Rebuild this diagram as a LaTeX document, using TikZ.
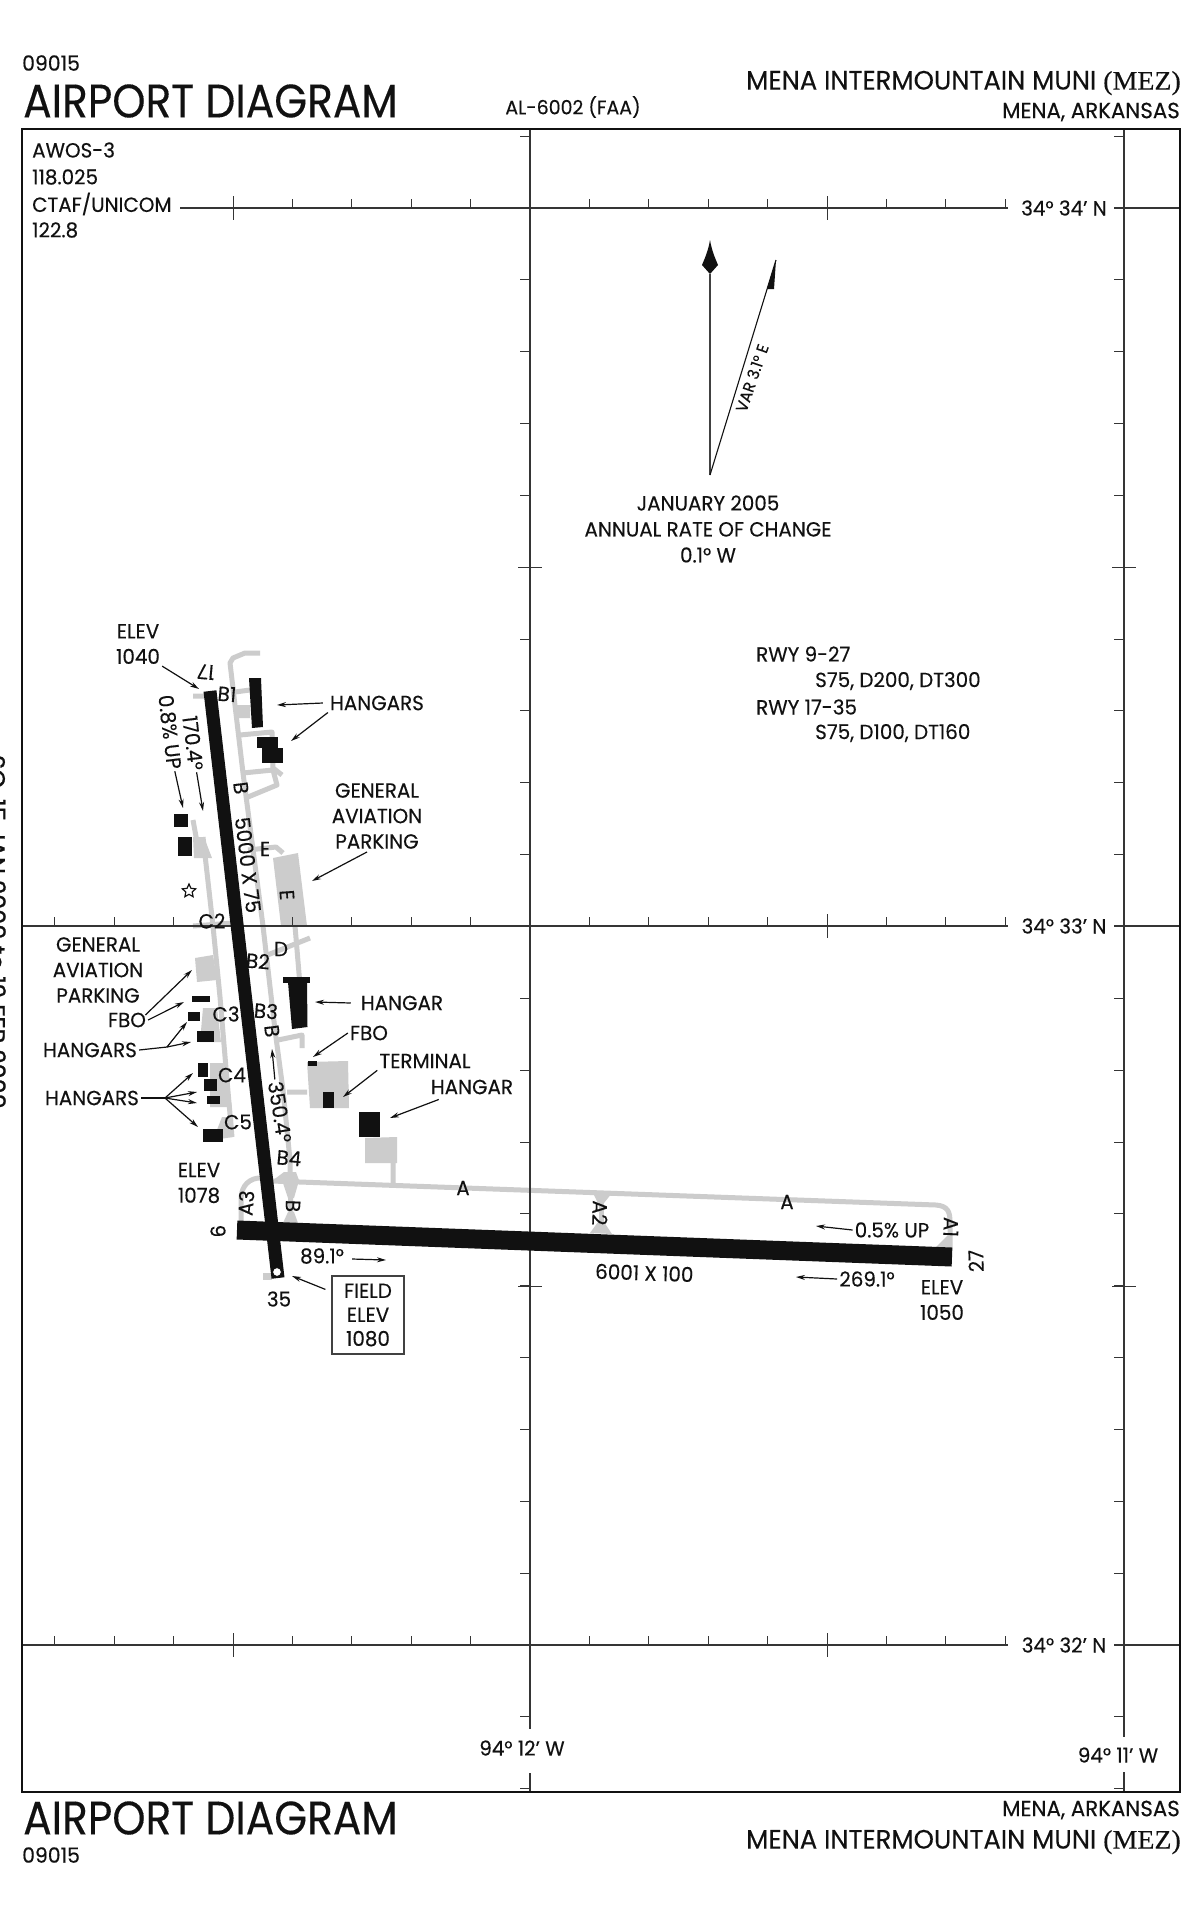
\documentclass[tikz,border=0pt]{standalone}
\usepackage{fontspec}
\setmainfont[FakeStretch=0.97,FakeBold=0.25]{Poppins}
\newfontfamily\titlefont[FakeStretch=0.90,FakeBold=0.25]{Poppins}
\newfontfamily\cyclefont[FakeBold=1]{Poppins}
\newfontfamily\mezfont[FakeStretch=1.05,FakeBold=0.25]{Liberation Serif}
\usetikzlibrary{arrows.meta,shapes.geometric}
\definecolor{aptgray}{HTML}{CCCCCC}
\definecolor{ink}{HTML}{111111}
\newcommand{\fs}[1]{\fontsize{#1}{#1}\selectfont}
\tikzset{
    lbl/.style={font=\fs{20.5}, inner sep=2pt, align=center, text=ink},
    multi/.style={lbl, font=\fontsize{20.5}{25.5}\selectfont},
    small/.style={lbl, font=\fs{16}},
    title/.style={inner sep=0pt, text=ink},
    grid/.style={line width=1.3pt, draw=ink!85},
    tick/.style={line width=1pt, draw=ink!85},
    taxi/.style={line width=5pt, draw=aptgray, line join=round},
    apron/.style={fill=aptgray},
    leader/.style={line width=1.2pt, draw=ink, -{Stealth[length=9pt,width=5pt]}},
    building/.style={fill=ink}
}
\begin{document}
\begin{tikzpicture}[x=1pt, y=-1pt]
    \useasboundingbox (0,0) rectangle (1200,1922);
    \fill[white] (0,0) rectangle (1200,1922);

    % taxiways and aprons
    \draw[taxi] (260,653) -- (245,653) -- (233,658) -- (230,663) -- (243,773) -- (263,926) -- (275,1030) -- (283,1090) -- (290,1160) -- (291,1222);
    \draw[taxi] (235,692) -- (250,690) (240,735) -- (272,732) -- (273,770) -- (243,773) (273,768) -- (282,775) (273,770) -- (277,785) -- (248,797);
    \draw[taxi] (248,850) -- (276,847) -- (283,853);
    \draw[taxi] (265,956) -- (310,938) (295,926) -- (300,985) (278,1040) -- (302,1035) -- (302,1048);
    \draw[taxi] (193,820) -- (197,842) (203,837) -- (213,926) -- (220,997) -- (227,1080) -- (232,1137);
    \draw[taxi] (193,926) -- (233,923) (193,696) -- (206,696) (287,1092) -- (307,1092) (393,1160) -- (393,1186);
    \draw[taxi] (272,1181) -- (936,1205) .. controls (948,1206) and (950,1212) .. (950,1222) -- (950,1248);
    \draw[taxi] (265,1178) -- (258,1178) .. controls (245,1180) and (241,1190) .. (241,1200) -- (241,1221);
    \draw[taxi] (601,1196) -- (601,1232);
    \fill[apron] (235,705) -- (250,705) -- (250,718) -- (237,718) -- cycle;
    \fill[apron] (193,837) -- (204,837) -- (212,858) -- (194,858) -- cycle;
    \fill[apron] (273,858) -- (298,853) -- (307,926) -- (281,926) -- cycle;
    \fill[apron] (195,958) -- (213,955) -- (217,980) -- (197,982) -- cycle;
    \fill[apron] (203,1008) -- (217,1008) -- (221,1042) -- (200,1042) -- cycle;
    \fill[apron] (210,1063) -- (223,1063) -- (232,1107) -- (210,1107) -- cycle;
    \fill[apron] (222,1117) -- (233,1117) -- (233,1137) -- (213,1140) -- cycle;
    \fill[apron] (307,1062) -- (348,1061) -- (349,1108) -- (310,1108) -- cycle;
    \fill[apron] (365,1138) -- (397,1137) -- (397,1163) -- (365,1163) -- cycle;
    \fill[apron] (263,1273) -- (272,1273) -- (272,1280) -- (263,1280) -- cycle;
    \fill[apron] (590,1233) -- (612,1234) -- (604,1222) -- (598,1222) -- cycle;
    \fill[apron] (592,1191) -- (612,1193) -- (604,1203) -- (598,1203) -- cycle;
    \fill[apron] (936,1247) -- (951,1248) -- (951,1232) -- cycle;
    \fill[apron] (283,1223) -- (298,1223) -- (294,1212) -- (288,1212) -- cycle;
    \fill[apron] (283,1183) -- (298,1184) -- (294,1198) -- (288,1198) -- cycle;
    \fill[apron] (272,1181) -- (300,1183) -- (296,1172) -- (284,1172) -- cycle;

    % graticule
    \foreach \ytop/\xstart/\kstart in {208/180/-5, 926/22/-8, 1645/22/-8} {
        \draw[grid] (\xstart,\ytop) -- (1008,\ytop) (1114,\ytop) -- (1180,\ytop);
        \foreach \k in {\kstart,...,8} {
            \draw[tick] (530+59.4*\k,\ytop) -- (530+59.4*\k,\ytop-9);
        }
        \foreach \xtop in {233,827} {\draw[tick] (\xtop,\ytop-12) -- (\xtop,\ytop+12);}
    }
    \foreach \xline/\ygap/\ygapend in {530/1729/1773, 1124/1737/1772} {
        \draw[line width=1.1pt, draw=ink!85] (\xline,129) -- (\xline,\ygap) (\xline,\ygapend) -- (\xline,1792);
        \foreach \j in {-1,...,22} {
            \draw[tick] (\xline,208+71.85*\j) -- (\xline-10,208+71.85*\j);
        }
        \foreach \ytick in {567,1286} {\draw[tick] (\xline-12,\ytick) -- (\xline+12,\ytick);}
    }
    \draw[line width=2pt, draw=ink] (22,129) rectangle (1180,1792);

    % runways
    \draw[ink, line width=13pt] (210,691) -- (278,1278);
    \draw[ink, line width=19pt] (237,1230) -- (952,1257);
    \node[circle, draw=ink, fill=white, line width=1pt, minimum size=9pt, inner sep=0pt] (threshold) at (277,1272) {};

    % buildings
    \foreach \xa/\ya/\xb/\yb in {
        257/737/278/748, 262/748/283/763, 174/814/188/827, 178/837/192/856,
        192/996/210/1002, 188/1012/200/1021, 197/1031/214/1042, 198/1063/208/1077,
        204/1079/217/1091, 207/1096/220/1104, 203/1129/223/1142, 283/977/310/983,
        359/1112/380/1137, 323/1092/334/1108, 308/1061/317/1066
    } {\fill[building] (\xa,\ya) rectangle (\xb,\yb);}
    \fill[building] (249,678) -- (261,678) -- (263,727) -- (252,728) -- cycle;
    \fill[building] (288,982) -- (307,982) -- (307.5,1027) -- (292,1029) -- cycle;
    \node[star, star points=5, star point ratio=2.1, draw=ink, fill=white, line width=1.2pt, minimum size=14pt, inner sep=0pt] (beacon) at (189,891) {};

    % headers
    \node[title, anchor=west, font=\fs{21}] (numtop) at (22,63) {09015};
    \node[title, anchor=west, font=\titlefont\fs{47}] (titletop) at (23,101) {AIRPORT DIAGRAM};
    \node[title, anchor=center, font=\fs{19.5}] (alnum) at (573,107) {AL-6002 (FAA)};
    \node[title, anchor=east, font=\fs{26.6}] (nametop) at (1181,83) {MENA INTERMOUNTAIN MUNI {\mezfont (MEZ)}};
    \node[title, anchor=east, font=\fs{22}] (citytop) at (1180,112) {MENA, ARKANSAS};
    \node[title, anchor=west, font=\titlefont\fs{47}] (titlebot) at (23,1818) {AIRPORT DIAGRAM};
    \node[title, anchor=west, font=\fs{21}] (numbot) at (22,1855) {09015};
    \node[title, anchor=east, font=\fs{22}] (citybot) at (1180,1810) {MENA, ARKANSAS};
    \node[title, anchor=east, font=\fs{26.6}] (namebot) at (1181,1842) {MENA INTERMOUNTAIN MUNI {\mezfont (MEZ)}};
    \node[title, rotate=-90, anchor=base, font=\cyclefont\fs{24}] (cycle) at (-12,932) {SC, 15 JAN 2009 to 12 FEB 2009};

    \node[lbl, anchor=west] (awos) at (30,150) {AWOS-3};
    \node[lbl, anchor=west] (awosfreq) at (30,177) {118.025};
    \node[lbl, anchor=west] (ctaf) at (30,204) {CTAF/UNICOM};
    \node[lbl, anchor=west] (ctaffreq) at (30,230) {122.8};

    % graticule labels
    \foreach \ytop/\m in {208/34, 926/33, 1645/32} {
        \node[lbl, anchor=center] (lat\m) at (1064,\ytop) {34° \m' N};
    }
    \node[lbl] (lon12) at (522,1748) {94° 12' W};
    \node[lbl] (lon11) at (1118,1755) {94° 11' W};

    % magnetic variation
    \coordinate (varbase) at (710,475);
    \coordinate (truetip) at (710,274);
    \coordinate (magtip) at (776,260);
    \draw[line width=1.5pt, draw=ink!80] (varbase) -- (truetip);
    \draw[line width=1.1pt, draw=ink] (varbase) -- (magtip);
    \fill[ink] (710,240) .. controls (712,252) and (716,260) .. (718,265) -- (710,274) -- (702,265) .. controls (704,260) and (708,252) .. (710,240) -- cycle;
    \fill[ink] (magtip) -- (767,289) -- (774,289) -- cycle;
    \node[small, rotate=71] (var) at (752,378) {VAR 3.1° E};
    \node[multi, font=\fontsize{20.5}{26}\selectfont] (rate) at (708,529) {JANUARY 2005\\ANNUAL RATE OF CHANGE\\0.1° W};

    \node[lbl, anchor=west] (rwya) at (754,654) {RWY 9-27};
    \node[lbl, anchor=west] (rwyab) at (813,681) {S75, D200, DT300};
    \node[lbl, anchor=west] (rwyb) at (754,707) {RWY 17-35};
    \node[lbl, anchor=west] (rwybb) at (813,733) {S75, D100, DT160};

    % runway and taxiway labels
    \foreach \n/\x/\y/\a/\txt in {
        rwyn/206/672/175/17, rwys/279/1299/0/35, rwyw/218/1231/-88/9, rwye/976/1261/92/27,
        bone/227/694/-5/B1, btwo/258/961/-5/B2, bthree/266/1011/-5/B3, bfour/289/1158/-5/B4,
        ctwo/212/921/0/C2, cthree/226/1014/0/C3, cfour/232/1075/0/C4, cfive/238/1122/0/C5,
        txb/241/788/-83/B, txbb/272/1031/-83/B, txbc/293/1206/-92/B, txe/265/849/0/E, txee/287/895/-86/E,
        txd/281/949/0/D, txa/463/1188/0/A, txaa/787/1202/0/A, aone/951/1227/-92/A1, atwo/600/1213/-92/A2, athree/246/1203/85/A3,
        rwydima/248/865/-83/{5000 X 75}, rwydimb/647/1273/-2/{6001 X 100}
    } {\node[lbl, rotate=\a] (\n) at (\x,\y) {\txt};}

    \node[multi] (elevn) at (138,644) {ELEV\\1040};
    \node[multi] (elevw) at (199,1183) {ELEV\\1078};
    \node[multi] (eleve) at (942,1300) {ELEV\\1050};
    \node[lbl, rotate=-83] (gradn) at (170,732) {0.8\% UP};
    \node[lbl, rotate=-83] (brgn) at (193,743) {170.4°};
    \node[lbl, rotate=-81] (brgs) at (280,1112) {350.4°};
    \node[lbl] (grade) at (892,1230) {0.5\% UP};
    \node[lbl] (brge) at (867,1279) {269.1°};
    \node[lbl] (brgw) at (322,1256) {89.1°};
    \node[lbl] (hangarsn) at (377,703) {HANGARS};
    \node[multi] (parke) at (377,816) {GENERAL\\AVIATION\\PARKING};
    \node[multi] (parkw) at (98,970) {GENERAL\\AVIATION\\PARKING};
    \node[lbl] (fbow) at (127,1020) {FBO};
    \node[lbl] (hangarsa) at (90,1050) {HANGARS};
    \node[lbl] (hangarsb) at (92,1098) {HANGARS};
    \node[lbl] (hangare) at (402,1003) {HANGAR};
    \node[lbl] (fboe) at (369,1033) {FBO};
    \node[lbl] (terminal) at (425,1061) {TERMINAL};
    \node[lbl] (hangart) at (472,1087) {HANGAR};
    \node[multi, draw=ink!80, line width=1.2pt, font=\fontsize{20.5}{24}\selectfont, inner sep=0pt, minimum width=72pt, minimum height=78pt] (fieldbox) at (368,1315) {FIELD\\ELEV\\1080};

    % leaders
    \foreach \n/\x/\y in {
        tipa/199/689, tipb/277/705, tipc/291/741, tipd/183/808, tipe/203/811, tipf/312/881,
        tipg/192/970, tiph/184/1002, tipi/315/1002, tipj/313/1057, tipk/343/1097, tipl/390/1118,
        tipm/272/1049, tipn/816/1226, tipo/796/1277, tipp/386/1260, tipq/292/1276,
        tipr/187/1022, tips/191/1042, tipt/193/1073, tipu/197/1092, tipv/197/1103, tipw/198/1127,
        forka/167/1047, forkb/165/1098
    } {\coordinate (\n) at (\x,\y);}
    \draw[leader] (elevn.south east) -- (tipa);
    \draw[leader] ([xshift=-5pt]hangarsn.west) -- (tipb);
    \draw[leader] (hangarsn.south west) -- (tipc);
    \draw[leader] (gradn.east) -- (tipd);
    \draw[leader] (brgn.east) -- (tipe);
    \draw[leader] ([xshift=-10pt,yshift=-1pt]parke.south) -- (tipf);
    \draw[leader] ([yshift=-10pt]parkw.south east) -- (tipg);
    \draw[leader] (fbow.east) -- (tiph);
    \draw[leader] ([xshift=-8pt]hangare.west) -- (tipi);
    \draw[leader] (fboe.west) -- (tipj);
    \draw[leader] (terminal.south west) -- (tipk);
    \draw[leader] ([xshift=10pt,yshift=-3pt]hangart.south west) -- (tipl);
    \draw[leader] (brgs.west) -- (tipm);
    \draw[leader] (grade.west) -- (tipn);
    \draw[leader] (brge.west) -- (tipo);
    \draw[leader] ([xshift=6pt,yshift=-3pt]brgw.east) -- (tipp);
    \draw[leader] ([xshift=-6pt,yshift=-14pt]fieldbox.north west) -- (tipq);
    \draw[line width=1.2pt, draw=ink] (hangarsa.east) -- (forka);
    \draw[line width=1.2pt, draw=ink] (hangarsb.east) -- (forkb);
    \foreach \t in {tipr,tips} {\draw[leader] (forka) -- (\t);}
    \foreach \t in {tipt,tipu,tipv,tipw} {\draw[leader] (forkb) -- (\t);}
\end{tikzpicture}
\end{document}
